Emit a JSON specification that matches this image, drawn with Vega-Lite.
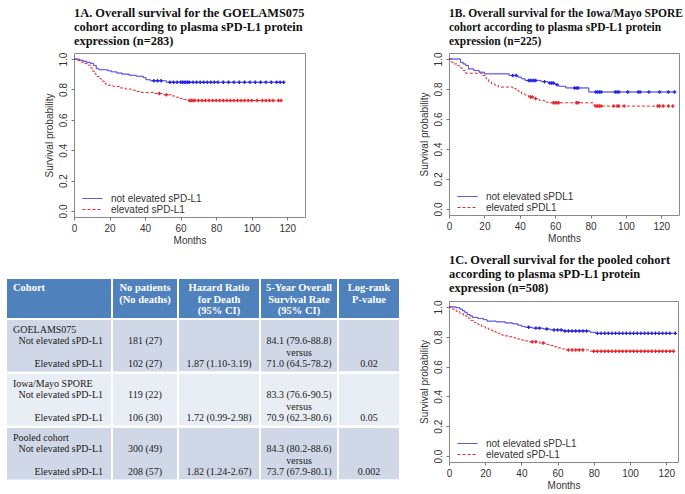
{
  "$schema": "https://vega.github.io/schema/vega-lite/v6.json",
  "padding": {"left": 7, "top": 6, "right": 0, "bottom": 0},
  "config": {
    "font": "Liberation Sans",
    "view": {"stroke": null},
    "axis": {"grid": false, "domain": false, "labelOverlap": false, "tickCount": 20, "labelFont": "Liberation Sans", "labelFontSize": 10, "labelColor": "#333", "tickColor": "#777", "tickSize": 3, "labelPadding": 3, "titleFont": "Liberation Sans", "titleFontSize": 10, "titleFontWeight": "normal", "titleColor": "#333"},
    "axisY": {"labelAngle": -90, "labelAlign": "center", "labelBaseline": "bottom", "titlePadding": 4},
    "axisX": {"titlePadding": 2, "labelFlush": false},
    "legend": {"orient": "bottom-left", "offset": 2, "padding": 0, "labelFont": "Liberation Sans", "labelFontSize": 10, "labelColor": "#333", "symbolType": "M-2,0L2,0", "symbolSize": 100, "symbolStrokeWidth": 1, "symbolOffset": 11, "labelOffset": 13, "rowPadding": -1},
    "title": {"anchor": "start", "frame": "group", "font": "Liberation Serif", "fontSize": 12.4, "fontWeight": "bold", "color": "#111", "lineHeight": 13.7, "offset": 5}
  },
  "datasets": {
    "A": [
      {"g":"n","t":0,"s":1},{"g":"n","t":3,"s":0.993},{"g":"n","t":5,"s":0.986},{"g":"n","t":7,"s":0.979},{"g":"n","t":9,"s":0.972},{"g":"n","t":11,"s":0.958},{"g":"n","t":12.5,"s":0.937},{"g":"n","t":14,"s":0.93},{"g":"n","t":19,"s":0.923},{"g":"n","t":21,"s":0.916},{"g":"n","t":24,"s":0.908},{"g":"n","t":27,"s":0.901},{"g":"n","t":31,"s":0.893},{"g":"n","t":35,"s":0.887},{"g":"n","t":39,"s":0.878},{"g":"n","t":40.5,"s":0.864},{"g":"n","t":43,"s":0.857},
      {"g":"n","t":45,"s":0.857,"c":1},{"g":"n","t":47,"s":0.857,"c":1},{"g":"n","t":49,"s":0.857,"c":1},
      {"g":"n","t":52,"s":0.847},
      {"g":"n","t":54,"s":0.847,"c":1},{"g":"n","t":56,"s":0.847,"c":1},{"g":"n","t":58,"s":0.847,"c":1},{"g":"n","t":60,"s":0.847,"c":1},{"g":"n","t":61,"s":0.847,"c":1},{"g":"n","t":62,"s":0.847,"c":1},{"g":"n","t":63,"s":0.847,"c":1},{"g":"n","t":64,"s":0.847,"c":1},{"g":"n","t":65,"s":0.847,"c":1},{"g":"n","t":67,"s":0.847,"c":1},{"g":"n","t":69,"s":0.847,"c":1},{"g":"n","t":71,"s":0.847,"c":1},{"g":"n","t":73,"s":0.847,"c":1},{"g":"n","t":75,"s":0.847,"c":1},{"g":"n","t":77,"s":0.847,"c":1},{"g":"n","t":79,"s":0.847,"c":1},{"g":"n","t":81,"s":0.847,"c":1},{"g":"n","t":84,"s":0.847,"c":1},{"g":"n","t":87,"s":0.847,"c":1},{"g":"n","t":90,"s":0.847,"c":1},{"g":"n","t":93,"s":0.847,"c":1},{"g":"n","t":96,"s":0.847,"c":1},{"g":"n","t":99,"s":0.847,"c":1},{"g":"n","t":102,"s":0.847,"c":1},{"g":"n","t":105,"s":0.847,"c":1},{"g":"n","t":108,"s":0.847,"c":1},{"g":"n","t":111,"s":0.847,"c":1},{"g":"n","t":114,"s":0.847,"c":1},{"g":"n","t":116,"s":0.847,"c":1},{"g":"n","t":118,"s":0.847,"c":1},
      {"g":"e","t":0,"s":1},{"g":"e","t":2,"s":0.99},{"g":"e","t":4,"s":0.98},{"g":"e","t":6,"s":0.97},{"g":"e","t":8,"s":0.96},{"g":"e","t":9.5,"s":0.94},{"g":"e","t":10.5,"s":0.92},{"g":"e","t":12,"s":0.9},{"g":"e","t":13,"s":0.885},{"g":"e","t":14.5,"s":0.87},{"g":"e","t":15.5,"s":0.855},{"g":"e","t":17,"s":0.84},{"g":"e","t":18,"s":0.828},{"g":"e","t":22,"s":0.82},{"g":"e","t":26,"s":0.81},{"g":"e","t":29,"s":0.803},{"g":"e","t":32,"s":0.795},{"g":"e","t":35,"s":0.787},{"g":"e","t":38,"s":0.78},{"g":"e","t":45,"s":0.773},
      {"g":"e","t":48,"s":0.773,"c":1},{"g":"e","t":50,"s":0.765},{"g":"e","t":52,"s":0.765,"c":1},{"g":"e","t":55,"s":0.757},{"g":"e","t":57,"s":0.749},{"g":"e","t":59,"s":0.741},{"g":"e","t":61,"s":0.733},{"g":"e","t":64,"s":0.727},
      {"g":"e","t":65,"s":0.727,"c":1},{"g":"e","t":66,"s":0.727,"c":1},{"g":"e","t":67,"s":0.727,"c":1},{"g":"e","t":68,"s":0.727,"c":1},{"g":"e","t":70,"s":0.727,"c":1},{"g":"e","t":72,"s":0.727,"c":1},{"g":"e","t":74,"s":0.727,"c":1},{"g":"e","t":76,"s":0.727,"c":1},{"g":"e","t":78,"s":0.727,"c":1},{"g":"e","t":80,"s":0.727,"c":1},{"g":"e","t":82,"s":0.727,"c":1},{"g":"e","t":84,"s":0.727,"c":1},{"g":"e","t":86,"s":0.727,"c":1},{"g":"e","t":88,"s":0.727,"c":1},{"g":"e","t":90,"s":0.727,"c":1},{"g":"e","t":92,"s":0.727,"c":1},{"g":"e","t":94,"s":0.727,"c":1},{"g":"e","t":96,"s":0.727,"c":1},{"g":"e","t":98,"s":0.727,"c":1},{"g":"e","t":100,"s":0.727,"c":1},{"g":"e","t":103,"s":0.727,"c":1},{"g":"e","t":106,"s":0.727,"c":1},{"g":"e","t":108,"s":0.727,"c":1},{"g":"e","t":110,"s":0.727,"c":1},{"g":"e","t":112,"s":0.727,"c":1},{"g":"e","t":115,"s":0.727,"c":1},{"g":"e","t":116.5,"s":0.727,"c":1}
    ],
    "B": [
      {"g":"n","t":0,"s":1},{"g":"n","t":6.5,"s":0.978},{"g":"n","t":8,"s":0.967},{"g":"n","t":9.5,"s":0.956},{"g":"n","t":11,"s":0.934},{"g":"n","t":14,"s":0.923},{"g":"n","t":17,"s":0.912},{"g":"n","t":20,"s":0.901},{"g":"n","t":34,"s":0.89},
      {"g":"n","t":36,"s":0.89,"c":1},{"g":"n","t":38,"s":0.89,"c":1},
      {"g":"n","t":39,"s":0.879},{"g":"n","t":41,"s":0.868},{"g":"n","t":43,"s":0.857},
      {"g":"n","t":45,"s":0.857,"c":1},{"g":"n","t":46,"s":0.857,"c":1},{"g":"n","t":47,"s":0.857,"c":1},{"g":"n","t":48,"s":0.857,"c":1},{"g":"n","t":49,"s":0.857,"c":1},
      {"g":"n","t":52,"s":0.849},{"g":"n","t":54,"s":0.849,"c":1},{"g":"n","t":56,"s":0.84},{"g":"n","t":57,"s":0.84,"c":1},{"g":"n","t":58,"s":0.84,"c":1},{"g":"n","t":59,"s":0.84,"c":1},{"g":"n","t":60,"s":0.829},{"g":"n","t":61,"s":0.829,"c":1},{"g":"n","t":62,"s":0.818},{"g":"n","t":66,"s":0.807},
      {"g":"n","t":71,"s":0.807,"c":1},{"g":"n","t":72,"s":0.807,"c":1},{"g":"n","t":73,"s":0.807,"c":1},
      {"g":"n","t":79,"s":0.78},
      {"g":"n","t":83,"s":0.78,"c":1},{"g":"n","t":84,"s":0.78,"c":1},{"g":"n","t":85,"s":0.78,"c":1},{"g":"n","t":86,"s":0.78,"c":1},{"g":"n","t":94,"s":0.78,"c":1},{"g":"n","t":95,"s":0.78,"c":1},{"g":"n","t":96,"s":0.78,"c":1},{"g":"n","t":101,"s":0.78,"c":1},{"g":"n","t":107,"s":0.78,"c":1},{"g":"n","t":108,"s":0.78,"c":1},{"g":"n","t":113,"s":0.78,"c":1},{"g":"n","t":119,"s":0.78,"c":1},{"g":"n","t":124,"s":0.78,"c":1},{"g":"n","t":127.5,"s":0.78,"c":1},
      {"g":"e","t":0,"s":1},{"g":"e","t":1.5,"s":0.978},{"g":"e","t":3,"s":0.967},{"g":"e","t":4.5,"s":0.956},{"g":"e","t":6,"s":0.94},{"g":"e","t":8,"s":0.923},{"g":"e","t":9.5,"s":0.905},{"g":"e","t":19,"s":0.89},{"g":"e","t":21,"s":0.868},{"g":"e","t":22.5,"s":0.846},{"g":"e","t":24,"s":0.835},{"g":"e","t":26,"s":0.824},{"g":"e","t":28,"s":0.813},{"g":"e","t":36,"s":0.802},{"g":"e","t":38,"s":0.791},{"g":"e","t":39.5,"s":0.78},{"g":"e","t":41,"s":0.769},{"g":"e","t":43,"s":0.758},{"g":"e","t":45,"s":0.747},
      {"g":"e","t":46,"s":0.747,"c":1},{"g":"e","t":47,"s":0.747,"c":1},{"g":"e","t":48,"s":0.736},{"g":"e","t":49,"s":0.736,"c":1},{"g":"e","t":51,"s":0.724},{"g":"e","t":54,"s":0.713},{"g":"e","t":56,"s":0.708},
      {"g":"e","t":59,"s":0.708,"c":1},{"g":"e","t":60,"s":0.708,"c":1},{"g":"e","t":61,"s":0.708,"c":1},{"g":"e","t":62,"s":0.708,"c":1},{"g":"e","t":72,"s":0.708,"c":1},{"g":"e","t":73,"s":0.708,"c":1},
      {"g":"e","t":82,"s":0.686},
      {"g":"e","t":83,"s":0.686,"c":1},{"g":"e","t":84,"s":0.686,"c":1},{"g":"e","t":85,"s":0.686,"c":1},{"g":"e","t":86,"s":0.686,"c":1},{"g":"e","t":93,"s":0.686,"c":1},{"g":"e","t":95,"s":0.686,"c":1},{"g":"e","t":96,"s":0.686,"c":1},{"g":"e","t":99,"s":0.686,"c":1},{"g":"e","t":118,"s":0.686,"c":1},{"g":"e","t":119,"s":0.686,"c":1},{"g":"e","t":121,"s":0.686,"c":1},{"g":"e","t":124,"s":0.686,"c":1},{"g":"e","t":126.5,"s":0.686,"c":1}
    ],
    "C": [
      {"g":"n","t":0,"s":1},{"g":"n","t":4,"s":0.995},{"g":"n","t":6,"s":0.985},{"g":"n","t":7.5,"s":0.975},{"g":"n","t":8.5,"s":0.965},{"g":"n","t":10,"s":0.95},{"g":"n","t":11.5,"s":0.94},{"g":"n","t":13,"s":0.93},{"g":"n","t":16,"s":0.923},{"g":"n","t":19,"s":0.915},{"g":"n","t":21,"s":0.905},{"g":"n","t":26,"s":0.9},{"g":"n","t":31,"s":0.893},{"g":"n","t":35,"s":0.887},{"g":"n","t":38,"s":0.878},{"g":"n","t":40,"s":0.87},{"g":"n","t":42,"s":0.864},
      {"g":"n","t":44,"s":0.864,"c":1},{"g":"n","t":46,"s":0.858},{"g":"n","t":48,"s":0.858,"c":1},{"g":"n","t":50,"s":0.858,"c":1},{"g":"n","t":52,"s":0.852},{"g":"n","t":54,"s":0.852,"c":1},{"g":"n","t":56,"s":0.846},{"g":"n","t":58,"s":0.846,"c":1},{"g":"n","t":60,"s":0.846,"c":1},{"g":"n","t":62,"s":0.846,"c":1},{"g":"n","t":63,"s":0.839},
      {"g":"n","t":64,"s":0.839,"c":1},{"g":"n","t":66,"s":0.839,"c":1},{"g":"n","t":68,"s":0.839,"c":1},{"g":"n","t":70,"s":0.839,"c":1},{"g":"n","t":72,"s":0.839,"c":1},{"g":"n","t":74,"s":0.839,"c":1},{"g":"n","t":76,"s":0.839,"c":1},
      {"g":"n","t":78,"s":0.83},{"g":"n","t":81,"s":0.823},
      {"g":"n","t":82,"s":0.823,"c":1},{"g":"n","t":84,"s":0.823,"c":1},{"g":"n","t":86,"s":0.823,"c":1},{"g":"n","t":88,"s":0.823,"c":1},{"g":"n","t":90,"s":0.823,"c":1},{"g":"n","t":92,"s":0.823,"c":1},{"g":"n","t":94,"s":0.823,"c":1},{"g":"n","t":96,"s":0.823,"c":1},{"g":"n","t":98,"s":0.823,"c":1},{"g":"n","t":100,"s":0.823,"c":1},{"g":"n","t":102,"s":0.823,"c":1},{"g":"n","t":104,"s":0.823,"c":1},{"g":"n","t":106,"s":0.823,"c":1},{"g":"n","t":108,"s":0.823,"c":1},{"g":"n","t":110,"s":0.823,"c":1},{"g":"n","t":112,"s":0.823,"c":1},{"g":"n","t":114,"s":0.823,"c":1},{"g":"n","t":116,"s":0.823,"c":1},{"g":"n","t":118,"s":0.823,"c":1},{"g":"n","t":120,"s":0.823,"c":1},{"g":"n","t":122,"s":0.823,"c":1},{"g":"n","t":125,"s":0.823,"c":1},
      {"g":"e","t":0,"s":1},{"g":"e","t":2,"s":0.985},{"g":"e","t":4,"s":0.97},{"g":"e","t":6,"s":0.955},{"g":"e","t":8,"s":0.94},{"g":"e","t":10,"s":0.925},{"g":"e","t":12,"s":0.91},{"g":"e","t":14,"s":0.895},{"g":"e","t":16,"s":0.883},{"g":"e","t":18,"s":0.87},{"g":"e","t":20,"s":0.857},{"g":"e","t":22,"s":0.846},{"g":"e","t":24,"s":0.835},{"g":"e","t":26,"s":0.824},{"g":"e","t":28,"s":0.813},{"g":"e","t":30,"s":0.806},{"g":"e","t":33,"s":0.8},{"g":"e","t":36,"s":0.792},{"g":"e","t":38,"s":0.785},{"g":"e","t":40,"s":0.778},{"g":"e","t":42,"s":0.772},{"g":"e","t":44,"s":0.766},
      {"g":"e","t":46,"s":0.766,"c":1},{"g":"e","t":48,"s":0.766,"c":1},{"g":"e","t":50,"s":0.758},{"g":"e","t":52,"s":0.758,"c":1},{"g":"e","t":54,"s":0.749},{"g":"e","t":56,"s":0.741},{"g":"e","t":58,"s":0.733},{"g":"e","t":60,"s":0.725},{"g":"e","t":62,"s":0.718},{"g":"e","t":64,"s":0.712},
      {"g":"e","t":66,"s":0.712,"c":1},{"g":"e","t":68,"s":0.712,"c":1},{"g":"e","t":70,"s":0.712,"c":1},{"g":"e","t":72,"s":0.712,"c":1},{"g":"e","t":74,"s":0.712,"c":1},
      {"g":"e","t":78,"s":0.703},
      {"g":"e","t":80,"s":0.703,"c":1},{"g":"e","t":82,"s":0.703,"c":1},{"g":"e","t":84,"s":0.703,"c":1},{"g":"e","t":86,"s":0.703,"c":1},{"g":"e","t":88,"s":0.703,"c":1},{"g":"e","t":90,"s":0.703,"c":1},{"g":"e","t":92,"s":0.703,"c":1},{"g":"e","t":94,"s":0.703,"c":1},{"g":"e","t":96,"s":0.703,"c":1},{"g":"e","t":98,"s":0.703,"c":1},{"g":"e","t":100,"s":0.703,"c":1},{"g":"e","t":102,"s":0.703,"c":1},{"g":"e","t":104,"s":0.703,"c":1},{"g":"e","t":106,"s":0.703,"c":1},{"g":"e","t":108,"s":0.703,"c":1},{"g":"e","t":110,"s":0.703,"c":1},{"g":"e","t":112,"s":0.703,"c":1},{"g":"e","t":114,"s":0.703,"c":1},{"g":"e","t":116,"s":0.703,"c":1},{"g":"e","t":118,"s":0.703,"c":1},{"g":"e","t":120,"s":0.703,"c":1},{"g":"e","t":122,"s":0.703,"c":1},{"g":"e","t":124,"s":0.703,"c":1}
    ],
    "hdr": [
      {"col":"c1","line":0,"text":"Cohort"},
      {"col":"c2","line":0,"text":"No patients"},{"col":"c2","line":1,"text":"(No deaths)"},
      {"col":"c3","line":0,"text":"Hazard Ratio"},{"col":"c3","line":1,"text":"for Death"},{"col":"c3","line":2,"text":"(95% CI)"},
      {"col":"c4","line":0,"text":"5-Year Overall"},{"col":"c4","line":1,"text":"Survival Rate"},{"col":"c4","line":2,"text":"(95% CI)"},
      {"col":"c5","line":0,"text":"Log-rank"},{"col":"c5","line":1,"text":"P-value"}
    ],
    "tbl": [
      {"col":"c1","grp":"GOELAMS075","line":0,"text":"GOELAMS075"},{"col":"c1","grp":"GOELAMS075","line":1,"text":"Not elevated sPD-L1"},{"col":"c1","grp":"GOELAMS075","line":3,"text":"Elevated sPD-L1"},
      {"col":"c2","grp":"GOELAMS075","line":1,"text":"181 (27)"},{"col":"c2","grp":"GOELAMS075","line":3,"text":"102 (27)"},
      {"col":"c3","grp":"GOELAMS075","line":3,"text":"1.87 (1.10-3.19)"},
      {"col":"c4","grp":"GOELAMS075","line":1,"text":"84.1 (79.6-88.8)"},{"col":"c4","grp":"GOELAMS075","line":2,"text":"versus"},{"col":"c4","grp":"GOELAMS075","line":3,"text":"71.0 (64.5-78.2)"},
      {"col":"c5","grp":"GOELAMS075","line":3,"text":"0.02"},
      {"col":"c1","grp":"Iowa/Mayo SPORE","line":0,"text":"Iowa/Mayo SPORE"},{"col":"c1","grp":"Iowa/Mayo SPORE","line":1,"text":"Not elevated sPD-L1"},{"col":"c1","grp":"Iowa/Mayo SPORE","line":3,"text":"Elevated sPD-L1"},
      {"col":"c2","grp":"Iowa/Mayo SPORE","line":1,"text":"119 (22)"},{"col":"c2","grp":"Iowa/Mayo SPORE","line":3,"text":"106 (30)"},
      {"col":"c3","grp":"Iowa/Mayo SPORE","line":3,"text":"1.72 (0.99-2.98)"},
      {"col":"c4","grp":"Iowa/Mayo SPORE","line":1,"text":"83.3 (76.6-90.5)"},{"col":"c4","grp":"Iowa/Mayo SPORE","line":2,"text":"versus"},{"col":"c4","grp":"Iowa/Mayo SPORE","line":3,"text":"70.9 (62.3-80.6)"},
      {"col":"c5","grp":"Iowa/Mayo SPORE","line":3,"text":"0.05"},
      {"col":"c1","grp":"Pooled cohort","line":0,"text":"Pooled cohort"},{"col":"c1","grp":"Pooled cohort","line":1,"text":"Not elevated sPD-L1"},{"col":"c1","grp":"Pooled cohort","line":3,"text":"Elevated sPD-L1"},
      {"col":"c2","grp":"Pooled cohort","line":1,"text":"300 (49)"},{"col":"c2","grp":"Pooled cohort","line":3,"text":"208 (57)"},
      {"col":"c3","grp":"Pooled cohort","line":3,"text":"1.82 (1.24-2.67)"},
      {"col":"c4","grp":"Pooled cohort","line":1,"text":"84.3 (80.2-88.6)"},{"col":"c4","grp":"Pooled cohort","line":2,"text":"versus"},{"col":"c4","grp":"Pooled cohort","line":3,"text":"73.7 (67.9-80.1)"},
      {"col":"c5","grp":"Pooled cohort","line":3,"text":"0.002"}
    ]
  },
  "resolve": {"scale": {"color": "independent", "strokeDash": "independent"}, "legend": {"color": "independent", "strokeDash": "independent"}},
  "spacing": 19,
  "hconcat": [
    {
      "spacing": 33,
      "resolve": {"scale": {"color": "independent", "strokeDash": "independent"}, "legend": {"color": "independent", "strokeDash": "independent"}},
      "vconcat": [
        {
          "spacing": 6,
          "resolve": {"scale": {"color": "independent", "strokeDash": "independent"}, "legend": {"color": "independent", "strokeDash": "independent"}},
          "hconcat": [
            {"width": 30, "height": 5, "view": {"stroke": null}, "data": {"values": []}, "mark": "text", "encoding": {"text": {"value": ""}}},
            {
              "width": 231, "height": 164,
              "view": {"stroke": "#8a8a8a"},
              "title": {"text": ["1A. Overall survival for the GOELAMS075", "cohort according to plasma sPD-L1 protein", "expression (n=283)"]},
              "data": {"name": "A"},
              "layer": [
                {"mark": {"type": "line", "interpolate": "step-after", "strokeWidth": 1},
                 "encoding": {
                   "x": {"field": "t", "type": "quantitative", "title": "Months", "scale": {"domain": [0, 130], "nice": false, "zero": false}, "axis": {"values": [0, 20, 40, 60, 80, 100, 120], "tickCount": 20, "labelOverlap": false}},
                   "y": {"field": "s", "type": "quantitative", "title": "Survival probability", "scale": {"domain": [-0.04, 1.04], "nice": false, "zero": false}, "axis": {"values": [0, 0.2, 0.4, 0.6, 0.8, 1], "tickCount": 20, "format": ".1f", "labelOverlap": false}},
                   "color": {"field": "g", "type": "nominal", "scale": {"domain": ["n", "e"], "range": ["#2424e0", "#e8252b"]}, "legend": {"title": null, "labelExpr": "datum.label == 'n' ? 'not elevated sPD-L1' : 'elevated sPD-L1'", "encode": {"symbols": {"update": {"strokeDash": {"signal": "datum.value == 'e' ? [3, 2] : [1, 0]"}}}}}},
                   "strokeDash": {"field": "g", "type": "nominal", "scale": {"domain": ["n", "e"], "range": [[1, 0], [3, 2]]}, "legend": null}
                 }},
                {"transform": [{"filter": "datum.c == 1 && datum.g == 'n'"}], "mark": {"type": "point", "shape": "cross", "filled": true, "size": 12, "color": "#2424e0", "opacity": 1},
                 "encoding": {"x": {"field": "t", "type": "quantitative"}, "y": {"field": "s", "type": "quantitative"}}},
                {"transform": [{"filter": "datum.c == 1 && datum.g == 'e'"}], "mark": {"type": "point", "shape": "cross", "filled": true, "size": 12, "color": "#e8252b", "opacity": 1},
                 "encoding": {"x": {"field": "t", "type": "quantitative"}, "y": {"field": "s", "type": "quantitative"}}}
              ]
            }
          ]
        },
        {
          "spacing": 2,
          "vconcat": [
            {
              "spacing": 2,
              "hconcat": [
                {"width": 104, "height": 39, "view": {"fill": "#4f81bd", "stroke": null}, "data": {"name": "hdr"}, "transform": [{"filter": "datum.col == 'c1'"}],
                 "mark": {"type": "text", "font": "Liberation Serif", "fontWeight": "bold", "fontSize": 10.5, "color": "white", "align": "left", "dx": -46, "dy": 1},
                 "encoding": {"y": {"field": "line", "type": "ordinal", "axis": null, "scale": {"type": "band", "domain": [0, 1, 2], "paddingOuter": 0.25, "paddingInner": 0}}, "text": {"field": "text"}}},
                {"width": 64, "height": 39, "view": {"fill": "#4f81bd", "stroke": null}, "data": {"name": "hdr"}, "transform": [{"filter": "datum.col == 'c2'"}],
                 "mark": {"type": "text", "font": "Liberation Serif", "fontWeight": "bold", "fontSize": 10.5, "color": "white", "dy": 1},
                 "encoding": {"y": {"field": "line", "type": "ordinal", "axis": null, "scale": {"type": "band", "domain": [0, 1, 2], "paddingOuter": 0.25, "paddingInner": 0}}, "text": {"field": "text"}}},
                {"width": 80, "height": 39, "view": {"fill": "#4f81bd", "stroke": null}, "data": {"name": "hdr"}, "transform": [{"filter": "datum.col == 'c3'"}],
                 "mark": {"type": "text", "font": "Liberation Serif", "fontWeight": "bold", "fontSize": 10.5, "color": "white", "dy": 1},
                 "encoding": {"y": {"field": "line", "type": "ordinal", "axis": null, "scale": {"type": "band", "domain": [0, 1, 2], "paddingOuter": 0.25, "paddingInner": 0}}, "text": {"field": "text"}}},
                {"width": 76, "height": 39, "view": {"fill": "#4f81bd", "stroke": null}, "data": {"name": "hdr"}, "transform": [{"filter": "datum.col == 'c4'"}],
                 "mark": {"type": "text", "font": "Liberation Serif", "fontWeight": "bold", "fontSize": 10.5, "color": "white", "dy": 1},
                 "encoding": {"y": {"field": "line", "type": "ordinal", "axis": null, "scale": {"type": "band", "domain": [0, 1, 2], "paddingOuter": 0.25, "paddingInner": 0}}, "text": {"field": "text"}}},
                {"width": 60, "height": 39, "view": {"fill": "#4f81bd", "stroke": null}, "data": {"name": "hdr"}, "transform": [{"filter": "datum.col == 'c5'"}],
                 "mark": {"type": "text", "font": "Liberation Serif", "fontWeight": "bold", "fontSize": 10.5, "color": "white", "dy": 1},
                 "encoding": {"y": {"field": "line", "type": "ordinal", "axis": null, "scale": {"type": "band", "domain": [0, 1, 2], "paddingOuter": 0.25, "paddingInner": 0}}, "text": {"field": "text"}}}
              ]
            },
            {
              "spacing": 2,
              "hconcat": [
                {"data": {"name": "tbl"}, "transform": [{"filter": "datum.col == 'c1'"}],
                 "facet": {"row": {"field": "grp", "type": "nominal", "header": null, "sort": ["GOELAMS075", "Iowa/Mayo SPORE", "Pooled cohort"]}},
                 "spacing": {"row": 2},
                 "spec": {"width": 104, "height": 51.3, "layer": [
                   {"mark": {"type": "rect"}, "encoding": {"color": {"condition": {"test": "datum.grp == 'Iowa/Mayo SPORE'", "value": "#e9edf4"}, "value": "#d0d8e8"}}},
                   {"transform": [{"filter": "datum.line == 0"}], "mark": {"type": "text", "font": "Liberation Serif", "fontSize": 10, "color": "#1a1a1a", "align": "left", "dx": -46, "dy": 1.5},
                    "encoding": {"y": {"field": "line", "type": "ordinal", "axis": null, "scale": {"type": "band", "domain": [0, 1, 2, 3], "paddingOuter": 0.25, "paddingInner": 0}}, "text": {"field": "text"}}},
                   {"transform": [{"filter": "datum.line > 0"}], "mark": {"type": "text", "font": "Liberation Serif", "fontSize": 10, "color": "#1a1a1a", "align": "right", "dx": 44, "dy": 1.5},
                    "encoding": {"y": {"field": "line", "type": "ordinal", "axis": null}, "text": {"field": "text"}}}
                 ]}},
                {"data": {"name": "tbl"}, "transform": [{"filter": "datum.col == 'c2'"}],
                 "facet": {"row": {"field": "grp", "type": "nominal", "header": null, "sort": ["GOELAMS075", "Iowa/Mayo SPORE", "Pooled cohort"]}},
                 "spacing": {"row": 2},
                 "spec": {"width": 64, "height": 51.3, "layer": [
                   {"mark": {"type": "rect"}, "encoding": {"color": {"condition": {"test": "datum.grp == 'Iowa/Mayo SPORE'", "value": "#e9edf4"}, "value": "#d0d8e8"}}},
                   {"mark": {"type": "text", "font": "Liberation Serif", "fontSize": 10, "color": "#1a1a1a", "dy": 1.5},
                    "encoding": {"y": {"field": "line", "type": "ordinal", "axis": null, "scale": {"type": "band", "domain": [0, 1, 2, 3], "paddingOuter": 0.25, "paddingInner": 0}}, "text": {"field": "text"}}}
                 ]}},
                {"data": {"name": "tbl"}, "transform": [{"filter": "datum.col == 'c3'"}],
                 "facet": {"row": {"field": "grp", "type": "nominal", "header": null, "sort": ["GOELAMS075", "Iowa/Mayo SPORE", "Pooled cohort"]}},
                 "spacing": {"row": 2},
                 "spec": {"width": 80, "height": 51.3, "layer": [
                   {"mark": {"type": "rect"}, "encoding": {"color": {"condition": {"test": "datum.grp == 'Iowa/Mayo SPORE'", "value": "#e9edf4"}, "value": "#d0d8e8"}}},
                   {"mark": {"type": "text", "font": "Liberation Serif", "fontSize": 10, "color": "#1a1a1a", "dy": 1.5},
                    "encoding": {"y": {"field": "line", "type": "ordinal", "axis": null, "scale": {"type": "band", "domain": [0, 1, 2, 3], "paddingOuter": 0.25, "paddingInner": 0}}, "text": {"field": "text"}}}
                 ]}},
                {"data": {"name": "tbl"}, "transform": [{"filter": "datum.col == 'c4'"}],
                 "facet": {"row": {"field": "grp", "type": "nominal", "header": null, "sort": ["GOELAMS075", "Iowa/Mayo SPORE", "Pooled cohort"]}},
                 "spacing": {"row": 2},
                 "spec": {"width": 76, "height": 51.3, "layer": [
                   {"mark": {"type": "rect"}, "encoding": {"color": {"condition": {"test": "datum.grp == 'Iowa/Mayo SPORE'", "value": "#e9edf4"}, "value": "#d0d8e8"}}},
                   {"mark": {"type": "text", "font": "Liberation Serif", "fontSize": 10, "color": "#1a1a1a", "dy": 1.5},
                    "encoding": {"y": {"field": "line", "type": "ordinal", "axis": null, "scale": {"type": "band", "domain": [0, 1, 2, 3], "paddingOuter": 0.25, "paddingInner": 0}}, "text": {"field": "text"}}}
                 ]}},
                {"data": {"name": "tbl"}, "transform": [{"filter": "datum.col == 'c5'"}],
                 "facet": {"row": {"field": "grp", "type": "nominal", "header": null, "sort": ["GOELAMS075", "Iowa/Mayo SPORE", "Pooled cohort"]}},
                 "spacing": {"row": 2},
                 "spec": {"width": 60, "height": 51.3, "layer": [
                   {"mark": {"type": "rect"}, "encoding": {"color": {"condition": {"test": "datum.grp == 'Iowa/Mayo SPORE'", "value": "#e9edf4"}, "value": "#d0d8e8"}}},
                   {"mark": {"type": "text", "font": "Liberation Serif", "fontSize": 10, "color": "#1a1a1a", "dy": 1.5},
                    "encoding": {"y": {"field": "line", "type": "ordinal", "axis": null, "scale": {"type": "band", "domain": [0, 1, 2, 3], "paddingOuter": 0.25, "paddingInner": 0}}, "text": {"field": "text"}}}
                 ]}}
              ]
            }
          ]
        }
      ]
    },
    {
      "spacing": 9,
      "resolve": {"scale": {"color": "independent", "strokeDash": "independent"}, "legend": {"color": "independent", "strokeDash": "independent"}},
      "vconcat": [
        {
          "width": 230, "height": 162,
          "view": {"stroke": "#8a8a8a"},
          "title": {"text": ["1B. Overall survival for the Iowa/Mayo SPORE", "cohort according to plasma sPD-L1 protein", "expression (n=225)"], "fontSize": 11.5},
          "data": {"name": "B"},
          "layer": [
            {"mark": {"type": "line", "interpolate": "step-after", "strokeWidth": 1},
             "encoding": {
               "x": {"field": "t", "type": "quantitative", "title": "Months", "scale": {"domain": [0, 130], "nice": false, "zero": false}, "axis": {"values": [0, 20, 40, 60, 80, 100, 120], "tickCount": 20, "labelOverlap": false}},
               "y": {"field": "s", "type": "quantitative", "title": "Survival probability", "scale": {"domain": [-0.04, 1.04], "nice": false, "zero": false}, "axis": {"values": [0, 0.2, 0.4, 0.6, 0.8, 1], "tickCount": 20, "format": ".1f", "labelOverlap": false}},
               "color": {"field": "g", "type": "nominal", "scale": {"domain": ["n", "e"], "range": ["#2424e0", "#e8252b"]}, "legend": {"title": null, "labelExpr": "datum.label == 'n' ? 'not elevated sPDL1' : 'elevated sPDL1'", "encode": {"symbols": {"update": {"strokeDash": {"signal": "datum.value == 'e' ? [3, 2] : [1, 0]"}}}}}},
               "strokeDash": {"field": "g", "type": "nominal", "scale": {"domain": ["n", "e"], "range": [[1, 0], [3, 2]]}, "legend": null}
             }},
            {"transform": [{"filter": "datum.c == 1 && datum.g == 'n'"}], "mark": {"type": "point", "shape": "cross", "filled": true, "size": 12, "color": "#2424e0", "opacity": 1},
             "encoding": {"x": {"field": "t", "type": "quantitative"}, "y": {"field": "s", "type": "quantitative"}}},
            {"transform": [{"filter": "datum.c == 1 && datum.g == 'e'"}], "mark": {"type": "point", "shape": "cross", "filled": true, "size": 12, "color": "#e8252b", "opacity": 1},
             "encoding": {"x": {"field": "t", "type": "quantitative"}, "y": {"field": "s", "type": "quantitative"}}}
          ]
        },
        {
          "width": 229, "height": 161,
          "view": {"stroke": "#8a8a8a"},
          "title": {"text": ["1C. Overall survival for the pooled cohort", "according to plasma sPD-L1 protein", "expression (n=508)"], "offset": 6},
          "data": {"name": "C"},
          "layer": [
            {"mark": {"type": "line", "interpolate": "step-after", "strokeWidth": 1},
             "encoding": {
               "x": {"field": "t", "type": "quantitative", "title": "Months", "scale": {"domain": [0, 126.5], "nice": false, "zero": false}, "axis": {"values": [0, 20, 40, 60, 80, 100, 120], "tickCount": 20, "labelOverlap": false}},
               "y": {"field": "s", "type": "quantitative", "title": "Survival probability", "scale": {"domain": [-0.04, 1.04], "nice": false, "zero": false}, "axis": {"values": [0, 0.2, 0.4, 0.6, 0.8, 1], "tickCount": 20, "format": ".1f", "labelOverlap": false}},
               "color": {"field": "g", "type": "nominal", "scale": {"domain": ["n", "e"], "range": ["#2424e0", "#e8252b"]}, "legend": {"title": null, "labelExpr": "datum.label == 'n' ? 'not elevated sPD-L1' : 'elevated sPD-L1'", "encode": {"symbols": {"update": {"strokeDash": {"signal": "datum.value == 'e' ? [3, 2] : [1, 0]"}}}}}},
               "strokeDash": {"field": "g", "type": "nominal", "scale": {"domain": ["n", "e"], "range": [[1, 0], [3, 2]]}, "legend": null}
             }},
            {"transform": [{"filter": "datum.c == 1 && datum.g == 'n'"}], "mark": {"type": "point", "shape": "cross", "filled": true, "size": 12, "color": "#2424e0", "opacity": 1},
             "encoding": {"x": {"field": "t", "type": "quantitative"}, "y": {"field": "s", "type": "quantitative"}}},
            {"transform": [{"filter": "datum.c == 1 && datum.g == 'e'"}], "mark": {"type": "point", "shape": "cross", "filled": true, "size": 12, "color": "#e8252b", "opacity": 1},
             "encoding": {"x": {"field": "t", "type": "quantitative"}, "y": {"field": "s", "type": "quantitative"}}}
          ]
        }
      ]
    }
  ]
}
